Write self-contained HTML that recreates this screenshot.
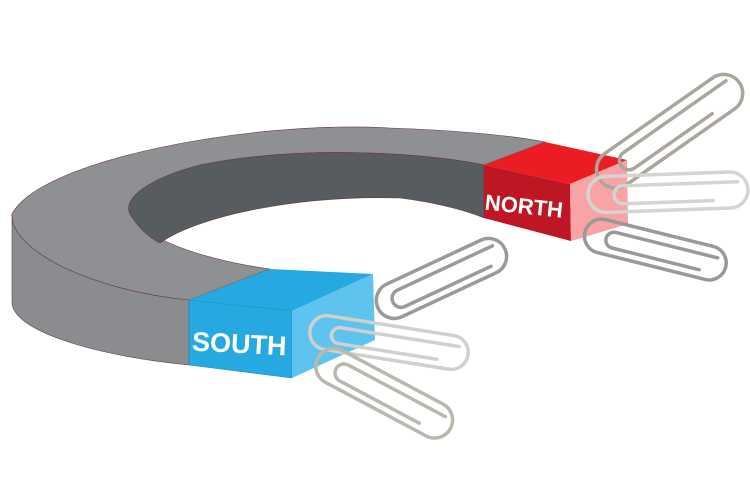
<!DOCTYPE html>
<html><head><meta charset="utf-8"><style>
html,body{margin:0;padding:0;background:#fff;width:750px;height:500px;overflow:hidden}
svg{display:block}
text{font-family:"Liberation Sans",sans-serif;font-weight:bold;fill:#fff}
</style></head><body>
<svg width="750" height="500" viewBox="0 0 750 500">
<path d="M12,214 C10,250 90,290 189,300 L189,365 C90,355 12,330 12,302 Z" fill="#8a8c8f" stroke="#6b3b3b" stroke-width="0.6"/>
<path d="M12,214 C40,160 250,120 390,128 C450,130 510,135 545,142 L484,165 C420,152 300,145 200,165 C150,178 122,198 130,214 C150,245 220,262 270,269 L189,300 C90,290 10,250 12,214 Z" fill="#8e9093" stroke="#6b3b3b" stroke-width="0.6"/>
<path d="M484,165 C420,152 300,145 200,165 C150,178 122,198 130,214 C138,228 150,238 160,243 C200,215 300,195 400,198 C440,203 470,212 484,218 Z" fill="#575c60" stroke="#6b3b3b" stroke-width="0.6"/>
<path d="M189,300 L270,269 L373,274 L292,311 Z" fill="#25a9e0"/>
<path d="M189,300 L292,311 L292,378 L189,365 Z" fill="#25a9e0" stroke="#1e8fc0" stroke-width="0.6"/>
<path d="M292,311 L373,274 L375,340 L292,378 Z" fill="#5ec3ee"/>
<text x="192" y="353" font-size="27" transform="rotate(3 240 345)">SOUTH</text>
<path d="M484,165 L545,142 L627,160 L570,184 Z" fill="#ec1c24"/>
<path d="M484,165 L570,184 L571,241 L484,218 Z" fill="#be1622"/>
<path d="M570,184 L627,160 L628,224 L571,241 Z" fill="#f9a3a6"/>
<text x="485" y="214" font-size="22" transform="rotate(6 527 205)">NORTH</text>
<g fill="none" stroke-width="3.5" stroke-linecap="round">
<g transform="translate(378,308) rotate(-25)" stroke="#9a9a9a">
<rect x="0" y="-18" width="140" height="36" rx="18"/>
<path d="M130,-8 L25,-8 A9,9 0 0 0 25,10 L120,10"/></g>
<g transform="translate(310,330) rotate(9)" stroke="#d0d0cc">
<rect x="0" y="-17" width="160" height="34" rx="17"/>
<path d="M150,-7 L30,-7 A8,8 0 0 0 30,9 L130,9"/></g>
<g transform="translate(318,358) rotate(28)" stroke="#b8b8ae">
<rect x="0" y="-18" width="150" height="36" rx="18"/>
<path d="M140,-8 L30,-8 A9,9 0 0 0 30,10 L120,10"/></g>
<g transform="translate(600,180) rotate(-35)" stroke="#aaa69c">
<rect x="0" y="-19" width="170" height="38" rx="19"/>
<path d="M160,-9 L35,-9 A9,9 0 0 0 35,10 L130,10"/></g>
<g transform="translate(588,195) rotate(-2)" stroke="#d4d4d0">
<rect x="0" y="-18" width="160" height="36" rx="18"/>
<path d="M150,-8 L35,-8 A9,9 0 0 0 35,10 L125,10"/></g>
<g transform="translate(585,232) rotate(14)" stroke="#999">
<rect x="0" y="-17" width="145" height="34" rx="17"/>
<path d="M135,-7 L30,-7 A8,8 0 0 0 30,9 L120,9"/></g>
</g>
</svg>
</body></html>
